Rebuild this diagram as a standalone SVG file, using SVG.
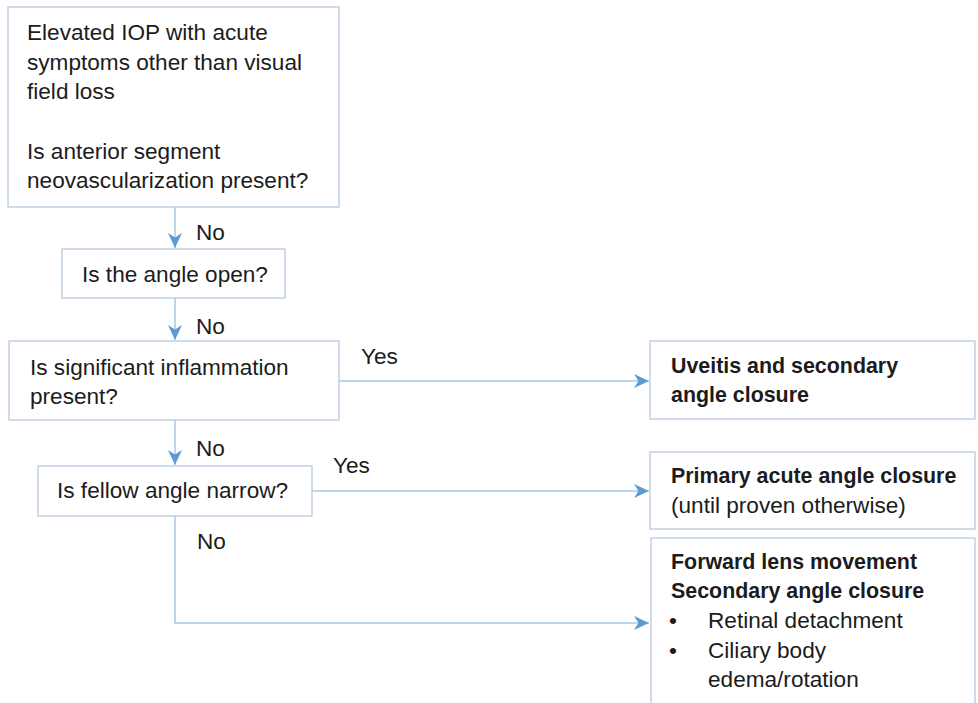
<svg xmlns="http://www.w3.org/2000/svg" width="978" height="703" viewBox="0 0 978 703">
<defs>
<style>
.box{fill:#ffffff;stroke:#b7cade;stroke-width:1.3}
.t{font-family:"Liberation Sans",Arial,sans-serif;font-size:22.6px;fill:#1c1c1c}
.b{font-weight:bold;font-size:21.4px}
.c{fill:none;stroke:#a9c9e6;stroke-width:1.5}
</style>
<marker id="ah" viewBox="0 0 15 14" refX="15" refY="7" markerWidth="15" markerHeight="14" markerUnits="userSpaceOnUse" orient="auto">
<path d="M0,0 L15,7 L0,14 L4.5,7 Z" fill="#5b9bd5"/>
</marker>
</defs>
<rect width="978" height="703" fill="#ffffff"/>
<g id="connectors">
<line class="c" x1="175" y1="207" x2="175" y2="248" marker-end="url(#ah)"/>
<line class="c" x1="175" y1="298" x2="175" y2="340" marker-end="url(#ah)"/>
<line class="c" x1="175" y1="420" x2="175" y2="465" marker-end="url(#ah)"/>
<line class="c" x1="339" y1="381" x2="649" y2="381" marker-end="url(#ah)"/>
<line class="c" x1="312" y1="491" x2="649" y2="491" marker-end="url(#ah)"/>
<polyline class="c" points="175,516 175,623 649,623" marker-end="url(#ah)"/>
<text class="t" x="196" y="240">No</text>
<text class="t" x="196" y="334">No</text>
<text class="t" x="196" y="456">No</text>
<text class="t" x="197" y="549">No</text>
<text class="t" x="361" y="364">Yes</text>
<text class="t" x="333" y="473">Yes</text>
</g>
<g id="n1">
<rect class="box" x="8" y="7" width="331" height="200"/>
<text class="t" x="27" y="40">Elevated IOP with acute</text>
<text class="t" x="27" y="70">symptoms other than visual</text>
<text class="t" x="27" y="99">field loss</text>
<text class="t" x="27" y="159">Is anterior segment</text>
<text class="t" x="27" y="188">neovascularization present?</text>
</g>
<g id="n2">
<rect class="box" x="62" y="249" width="223" height="49"/>
<text class="t" x="82" y="282">Is the angle open?</text>
</g>
<g id="n3">
<rect class="box" x="9" y="341" width="330" height="79"/>
<text class="t" x="30" y="375">Is significant inflammation</text>
<text class="t" x="30" y="404">present?</text>
</g>
<g id="n4">
<rect class="box" x="38" y="466" width="274" height="50"/>
<text class="t" x="57" y="498">Is fellow angle narrow?</text>
</g>
<g id="n5">
<rect class="box" x="650" y="341" width="325" height="78"/>
<text class="t b" x="671" y="373">Uveitis and secondary</text>
<text class="t b" x="671" y="402">angle closure</text>
</g>
<g id="n6">
<rect class="box" x="650" y="452" width="325" height="77"/>
<text class="t b" x="671" y="483">Primary acute angle closure</text>
<text class="t" x="671" y="513">(until proven otherwise)</text>
</g>
<g id="n7">
<rect class="box" x="651" y="538" width="324" height="190"/>
<text class="t b" x="671" y="569">Forward lens movement</text>
<text class="t b" x="671" y="598">Secondary angle closure</text>
<text class="t" x="669" y="628">•</text>
<text class="t" x="708" y="628">Retinal detachment</text>
<text class="t" x="669" y="658">•</text>
<text class="t" x="708" y="658">Ciliary body</text>
<text class="t" x="708" y="687">edema/rotation</text>
</g>
</svg>
